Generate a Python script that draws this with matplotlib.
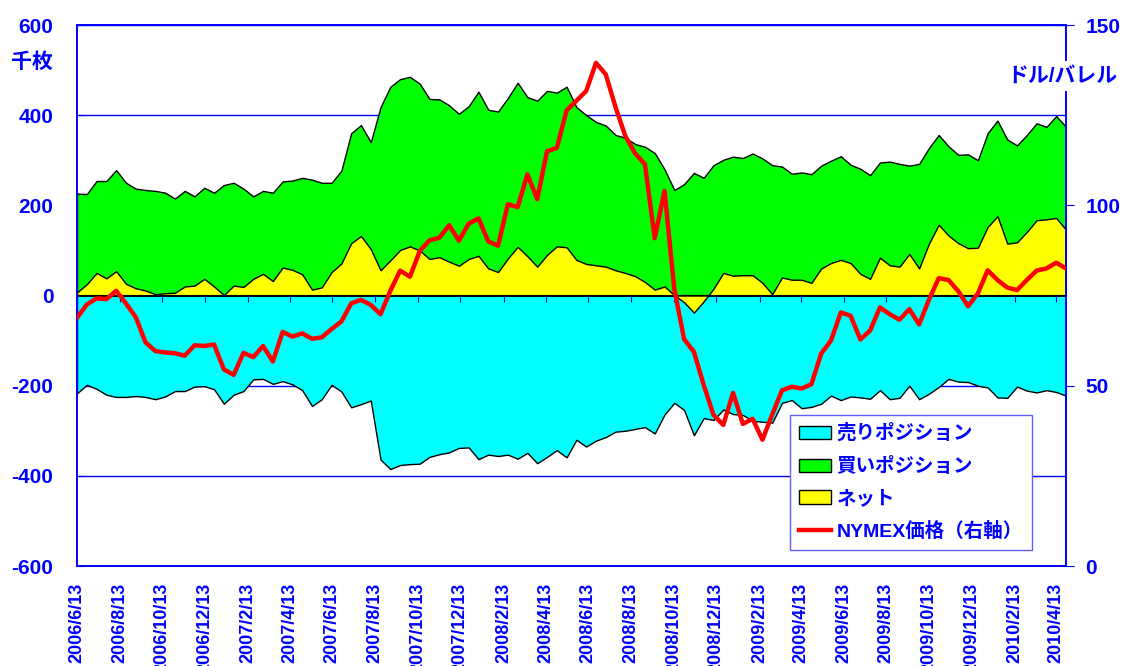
import matplotlib
matplotlib.use("Agg")
import matplotlib.pyplot as plt
import pandas as pd

#----- Fonts / colours -----
plt.rcParams["font.family"] = ["Liberation Sans", "Noto Sans CJK JP"]
plt.rcParams["font.weight"] = "bold"
plt.rcParams["axes.unicode_minus"] = False
BLUE = "#0000ff"

#----- Data (every 2 weeks, 1000 contracts / $ per bbl) -----
dates = pd.date_range("2006-06-13", periods=102, freq="14D")

long_pos = [226, 225, 254, 254, 278, 250, 237, 234, 232, 228,
            215, 232, 220, 239, 228, 245, 250, 237, 220, 232,
            228, 253, 255, 261, 257, 250, 250, 277, 360, 378,
            340, 418, 463, 480, 485, 470, 436, 435, 422, 403,
            420, 452, 412, 408, 438, 472, 440, 432, 454, 450,
            463, 418, 400, 385, 377, 356, 350, 336, 330, 316,
            280, 234, 247, 272, 261, 289, 301, 308, 305, 315,
            304, 289, 286, 270, 273, 269, 288, 299, 309, 290,
            281, 267, 295, 297, 292, 288, 292, 327, 356, 331,
            312, 313, 300, 360, 388, 346, 333, 356, 382, 374,
            398, 374]

short_pos = [-217, -198, -207, -220, -225, -225, -223, -225, -230, -224,
             -212, -212, -202, -201, -208, -240, -220, -212, -186, -185,
             -196, -190, -197, -210, -245, -230, -198, -213, -248, -241,
             -233, -364, -385, -376, -374, -373, -358, -352, -348, -338,
             -337, -363, -353, -356, -353, -362, -349, -372, -358, -343,
             -359, -320, -335, -322, -314, -302, -300, -296, -292, -306,
             -264, -238, -254, -310, -272, -276, -253, -263, -265, -278,
             -280, -282, -238, -232, -250, -247, -240, -222, -232, -224,
             -226, -229, -210, -230, -227, -200, -230, -218, -203, -185,
             -191, -192, -200, -204, -226, -227, -202, -211, -215, -210,
             -214, -222]

net_pos = [7, 25, 50, 38, 54, 26, 16, 11, 3, 5,
           6, 20, 22, 37, 20, 1, 22, 19, 37, 48,
           32, 62, 57, 47, 13, 18, 52, 71, 116, 132,
           103, 56, 78, 101, 109, 100, 81, 85, 75, 66,
           81, 88, 60, 52, 82, 108, 87, 64, 90, 109,
           107, 79, 70, 67, 64, 56, 50, 43, 30, 13,
           20, 1, -15, -38, -13, 15, 50, 44, 45, 45,
           28, 3, 40, 35, 35, 28, 60, 72, 79, 72,
           48, 37, 84, 67, 64, 92, 60, 115, 157, 133,
           116, 105, 106, 152, 176, 115, 118, 141, 167, 169,
           172, 146]

price = [68.8, 72.5, 74.2, 74.0, 76.3, 72.8, 69.0, 62.0, 59.6, 59.2,
         59.0, 58.3, 61.2, 61.0, 61.4, 54.5, 53.0, 59.1, 57.9, 61.0,
         56.7, 64.9, 63.6, 64.5, 63.0, 63.4, 65.7, 67.8, 72.8, 73.8,
         72.4, 69.8, 76.3, 81.9, 80.2, 87.3, 90.3, 91.0, 94.5, 90.2,
         94.9, 96.4, 90.0, 88.8, 100.3, 99.5, 108.6, 101.7, 115.0, 115.9,
         126.3, 129.0, 131.7, 139.5, 136.3, 127.2, 119.2, 114.4, 111.4, 90.9,
         104.0, 76.8, 62.9, 59.4, 50.2, 41.9, 39.1, 48.0, 39.4, 40.8,
         35.0, 42.0, 48.7, 49.7, 49.2, 50.4, 58.9, 62.5, 70.3, 69.4,
         62.8, 65.3, 71.7, 69.8, 68.3, 71.2, 67.0, 73.8, 79.8, 79.3,
         76.2, 72.0, 75.6, 82.0, 79.3, 77.2, 76.5, 79.3, 81.9, 82.5,
         84.1, 82.5]

tick_dates = pd.date_range("2006-06-13", "2010-04-13", freq=pd.DateOffset(months=2))
tick_labels = ["%d/%d/%d" % (d.year, d.month, d.day) for d in tick_dates]
left_ticks = [-600, -400, -200, 0, 200, 400, 600]
right_ticks = [0, 50, 100, 150]

labels = ["売りポジション", "買いポジション", "ネット", "NYMEX価格（右軸）"]

#----- Figure -----
fig = plt.figure(figsize=(11.21, 6.66), dpi=100)
ax = fig.add_axes([77/1121, 1-566/666, (1066-77)/1121, (566-25)/666])

h_short = ax.fill_between(dates, short_pos, 0, facecolor="#00ffff", edgecolor="black", linewidth=1, zorder=1)
h_long = ax.fill_between(dates, 0, long_pos, facecolor="#00ff00", edgecolor="black", linewidth=1, zorder=1.1)
h_net = ax.fill_between(dates, 0, net_pos, facecolor="#ffff00", edgecolor="black", linewidth=1, zorder=1.2)

ax.set_xlim(dates[0], dates[-1])
ax.set_ylim(-600, 600)
ax.set_yticks(left_ticks)
ax.set_axisbelow(True)
ax.grid(axis="y", color=BLUE, linewidth=1)
ax.tick_params(axis="y", direction="in", length=6, color=BLUE, labelcolor=BLUE, labelsize=15, pad=17)
ax.set_xticks(tick_dates)
ax.set_xticklabels(tick_labels, rotation=90, ha="center", va="top")
ax.tick_params(axis="x", length=0, labelcolor=BLUE, labelsize=13, pad=12)
for sp in ax.spines.values():
	sp.set_color(BLUE)
	sp.set_linewidth(1.2)

# zero line with the date ticks sitting on it
zero_axis = ax.secondary_xaxis(0.5)
zero_axis.set_zorder(3)
zero_axis.set_xticks(tick_dates)
zero_axis.tick_params(direction="in", length=5, color=BLUE, labelbottom=False, labeltop=False)
zero_axis.spines["bottom"].set_color(BLUE)
zero_axis.spines["bottom"].set_linewidth(2)

#--- price on the right axis ---
ax2 = ax.twinx()
h_price, = ax2.plot(dates, price, color="#ff0000", linewidth=3.2, zorder=5)
ax2.set_ylim(0, 150)
ax2.set_yticks(right_ticks)
ax2.tick_params(axis="y", direction="out", length=6, color=BLUE, labelcolor=BLUE, labelsize=15, pad=8)
for sp in ax2.spines.values():
	sp.set_color(BLUE)
	sp.set_linewidth(1.2)

#----- Unit labels -----
fig.text(32/1121, 1-62/666, "千枚", ha="center", va="center", color=BLUE, fontsize=15)
fig.text(1062/1121, 1-76/666, "ドル/バレル", ha="center", va="center", color=BLUE, fontsize=15,
	bbox=dict(facecolor="white", edgecolor="none", pad=4))

#----- Legend -----
leg = ax2.legend([h_short, h_long, h_net, h_price], labels,
	loc="upper left", bbox_to_anchor=(790/1121, 1-415/666), bbox_transform=fig.transFigure,
	borderaxespad=0, fancybox=False, edgecolor="#6060ff", framealpha=1,
	fontsize=14, labelcolor=BLUE, handlelength=1.65, handleheight=0.68,
	labelspacing=0.72, handletextpad=0.3, borderpad=0.45)
leg.get_frame().set_linewidth(1)

fig.savefig("out.png", dpi=100)
